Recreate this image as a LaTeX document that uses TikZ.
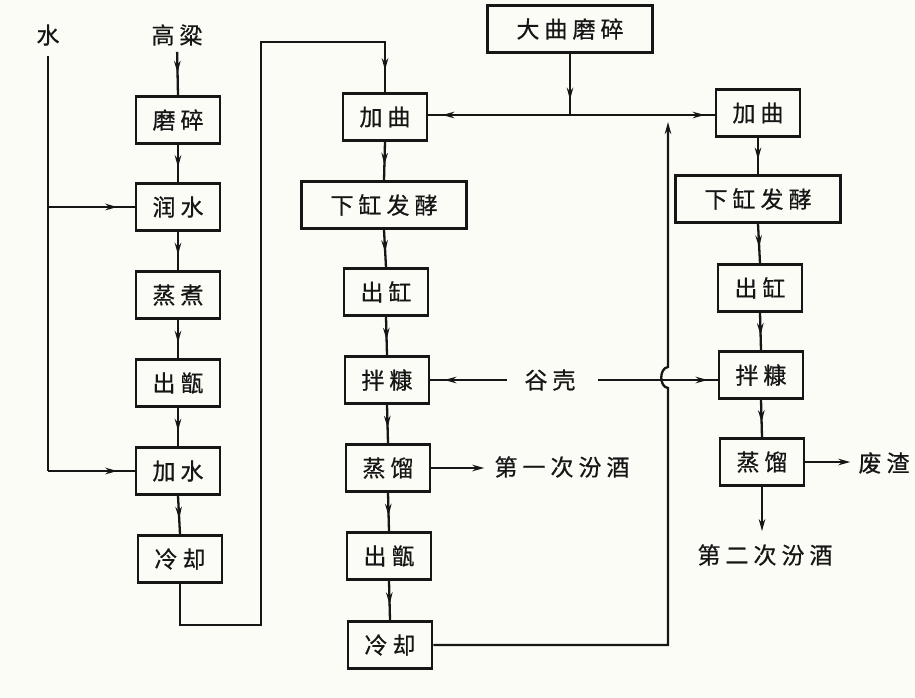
\documentclass[tikz,border=0pt]{standalone}
\usepackage{fontspec}
\setmainfont{Noto Sans CJK SC}[FakeBold=0.6]
\usetikzlibrary{arrows.meta,decorations.markings}
\newcommand\gp{\hspace{5pt}}
\definecolor{ink}{RGB}{22,22,22}
\definecolor{paper}{RGB}{252,252,246}
\tikzset{
  box/.style={draw=ink,line width=2.6pt,minimum width=84pt,minimum height=47pt,inner sep=0pt,font=\fontsize{23}{25}\selectfont,text=ink},
  wide/.style={box,minimum width=165pt},
  lbl/.style={inner sep=0pt,font=\fontsize{23}{25}\selectfont,text=ink},
  ln/.style={draw=ink,line width=2.3pt},
  tipA/.tip={Stealth[length=12pt,width=6.5pt]},
  midarrow/.style={ln,postaction={decorate},decoration={markings,mark=at position #1 with {\arrow{tipA}}}},
  midarrow/.default=0.6,
}
\begin{document}
\begin{tikzpicture}[x=1pt,y=-1pt]
\fill[paper] (0,0) rectangle (915,697);
\useasboundingbox (0,0) rectangle (915,697);
% labels
\node[lbl] (shui) at (48,35) {水};
\node[lbl] (gl) at (177,35) {高\gp 粱};
% left column
\node[box] (L1) at (178,120) {磨\gp 碎};
\node[box] (L2) at (178,207) {润\gp 水};
\node[box] (L3) at (178,295) {蒸\gp 煮};
\node[box] (L4) at (178,383) {出\gp 甑};
\node[box] (L5) at (178,471) {加\gp 水};
\node[box] (L6) at (180,559) {冷\gp 却};
% middle column
\node[box] (M1) at (385,117) {加\gp 曲};
\node[wide] (M2) at (384,205) {下\gp 缸\gp 发\gp 酵};
\node[box] (M3) at (386,292) {出\gp 缸};
\node[box] (M4) at (387,380) {拌\gp 糠};
\node[box] (M5) at (388,468) {蒸\gp 馏};
\node[box] (M6) at (389,556) {出\gp 甑};
\node[box] (M7) at (390,645) {冷\gp 却};
% top
\node[wide] (D) at (570,29) {大\gp 曲\gp 磨\gp 碎};
% right column
\node[box] (R1) at (758,113) {加\gp 曲};
\node[wide] (R2) at (758,199) {下\gp 缸\gp 发\gp 酵};
\node[box] (R3) at (760,288) {出\gp 缸};
\node[box] (R4) at (761,375) {拌\gp 糠};
\node[box] (R5) at (762,462) {蒸\gp 馏};
% side labels
\node[lbl] (gk) at (550,380) {谷\gp 壳};
\node[lbl] (j1) at (562,467) {第\gp 一\gp 次\gp 汾\gp 酒};
\node[lbl] (fz) at (884,463) {废\gp 渣};
\node[lbl] (j2) at (765,555) {第\gp 二\gp 次\gp 汾\gp 酒};
% coordinates
\coordinate (wb) at (48,471);
\coordinate (wm) at (48,207);
\coordinate (a1) at (180,625);
\coordinate (a2) at (261,625);
\coordinate (a3) at (261,42);
\coordinate (a4) at (385,42);
\coordinate (J) at (570,115);
\coordinate (b1) at (668,645);
\coordinate (h1) at (668,388);
\coordinate (h2) at (668,367);
\coordinate (b2) at (668,122);
% left column connectors
\draw[midarrow=0.55,shorten <=6pt] (gl.south) -- (L1.north);
\draw[midarrow] (L1.south) -- (L2.north);
\draw[midarrow] (L2.south) -- (L3.north);
\draw[midarrow] (L3.south) -- (L4.north);
\draw[midarrow] (L4.south) -- (L5.north);
\draw[midarrow] (L5.south) -- (L6.north);
% water
\draw[ln,shorten <=10pt] (shui.south) -- (wb);
\draw[midarrow=0.8] (wm) -- (L2.west);
\draw[midarrow=0.8] (wb) -- (L5.west);
% loop to middle
\draw[midarrow=-22pt,line join=miter] (L6.south) -- (a1) -- (a2) -- (a3) -- (a4) -- (M1.north);
% middle column connectors
\draw[midarrow] (M1.south) -- (M2.north);
\draw[midarrow] (M2.south) -- (M3.north);
\draw[midarrow] (M3.south) -- (M4.north);
\draw[midarrow] (M4.south) -- (M5.north);
\draw[midarrow] (M5.south) -- (M6.north);
\draw[midarrow] (M6.south) -- (M7.north);
% daqu
\draw[midarrow=0.75] (D.south) -- (J);
\draw[midarrow=-14pt] (J) -- (M1.east |- J);
\draw[midarrow=-10pt] (J) -- (R1.west |- J);
% husk
\draw[midarrow=-14pt,shorten <=17pt] (gk.west) -- (M4.east |- gk.west);
\draw[midarrow=-10pt,shorten <=22pt] (gk.east) -- (R4.west |- gk.east);
% first fenjiu
\draw[ln,-{tipA},shorten >=10pt] (M5.east) -- (j1.west |- M5.east);
% return line
\draw[ln,-{tipA}] (M7.east) -- (b1) -- (h1) .. controls (659,387) and (659,368) .. (h2) -- (b2);
% right column connectors
\draw[midarrow] (R1.south) -- (R2.north);
\draw[midarrow] (R2.south) -- (R3.north);
\draw[midarrow] (R3.south) -- (R4.north);
\draw[midarrow] (R4.south) -- (R5.north);
\draw[ln,-{tipA},shorten >=13pt] (R5.south) -- (R5.south |- j2.north);
\draw[ln,-{tipA},shorten >=8pt] (R5.east) -- (fz.west |- R5.east);
\end{tikzpicture}
\end{document}
